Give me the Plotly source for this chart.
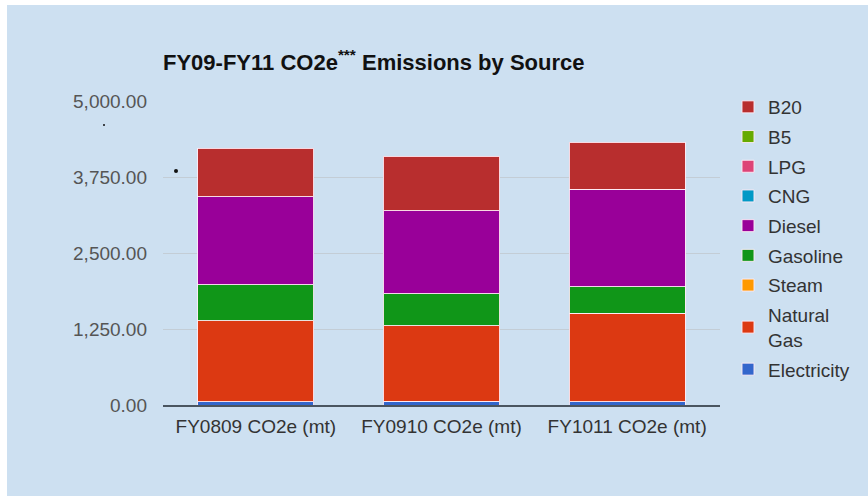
import plotly.graph_objects as go

categories = ["FY0809 CO2e (mt)", "FY0910 CO2e (mt)", "FY1011 CO2e (mt)"]

# stacked series, bottom to top
electricity = [55, 65, 55]
natural_gas = [1332, 1239, 1458]
steam = [0, 0, 0]
gasoline = [587, 522, 433]
diesel = [1452, 1365, 1602]
cng = [0, 0, 0]
lpg = [0, 0, 0]
b5 = [0, 0, 0]
b20 = [801, 904, 773]

series = [
    ("Electricity", electricity, "#3366CC"),
    ("Natural<br>Gas", natural_gas, "#DC3912"),
    ("Steam", steam, "#FF9900"),
    ("Gasoline", gasoline, "#109618"),
    ("Diesel", diesel, "#990099"),
    ("CNG", cng, "#0099C6"),
    ("LPG", lpg, "#DD4477"),
    ("B5", b5, "#66AA00"),
    ("B20", b20, "#B82E2E"),
]

BG = "#CDE0F1"
fig = go.Figure()
n = len(series)
for i, (name, vals, color) in enumerate(series):
    fig.add_trace(go.Bar(
        x=categories, y=vals, name=name,
        marker=dict(color=color, line=dict(color="rgba(255,235,245,0.9)", width=1)),
        legendgroup=str(i), legendrank=n - i,
    ))

W, H = 868, 496
L, T = 163, 101
pw, ph = 557, 304
R, B = W - L - pw, H - T - ph

def px(xp):
    return (xp - L) / pw

def py(yp):
    return (T + ph - yp) / ph

shapes = [
    dict(type="rect", xref="paper", yref="paper", x0=px(7), x1=px(W + 5),
         y0=py(5), y1=py(H + 5), fillcolor=BG, line=dict(width=0), layer="below"),
]
for (cx, cy, r) in [(104, 125, 1), (176, 171, 2)]:
    shapes.append(dict(type="circle", xref="paper", yref="paper",
                       xsizemode="pixel", ysizemode="pixel",
                       xanchor=px(cx), yanchor=py(cy),
                       x0=-r, x1=r, y0=-r, y1=r,
                       fillcolor="#111", line=dict(width=0)))

fig.update_layout(
    width=W, height=H,
    margin=dict(l=L, r=R, t=T, b=B, pad=0),
    paper_bgcolor="white",
    plot_bgcolor=BG,
    barmode="stack",
    bargap=0.375,
    font=dict(family="Arial, Liberation Sans, sans-serif", size=19, color="#333"),
    title=dict(text="FY09-FY11 CO2e<sup>***</sup> Emissions by Source",
               x=163 / W, xanchor="left", xref="container",
               y=1 - 62 / H, yanchor="middle", yref="container",
               font=dict(size=22, color="#111", family="Arial, Liberation Sans, sans-serif", weight="bold")),
    showlegend=True,
    legend=dict(
        x=px(728), xanchor="left", y=py(88), yanchor="top",
        traceorder="grouped", tracegroupgap=2, maxheight=1.0,
        bgcolor="rgba(0,0,0,0)",
        font=dict(size=19, color="#333"),
        itemclick=False,
    ),
    xaxis=dict(
        showgrid=False, showline=True, linecolor="#4a5560", linewidth=2,
        tickfont=dict(size=19, color="#333"), ticks="", ticklabelstandoff=3,
    ),
    yaxis=dict(
        range=[0, 5000], tickvals=[0, 1250, 2500, 3750, 5000],
        tickformat=",.2f", showgrid=True, gridcolor="#c3cdd6", gridwidth=1,
        zeroline=False, showline=False, ticks="",
        tickfont=dict(size=19, color="#555"), ticklabelstandoff=15,
    ),
    shapes=shapes,
)

fig.write_html(
    "out.html",
    config={"displayModeBar": False},
    post_script="document.body.style.margin='0';document.body.style.overflow='hidden';",
)
